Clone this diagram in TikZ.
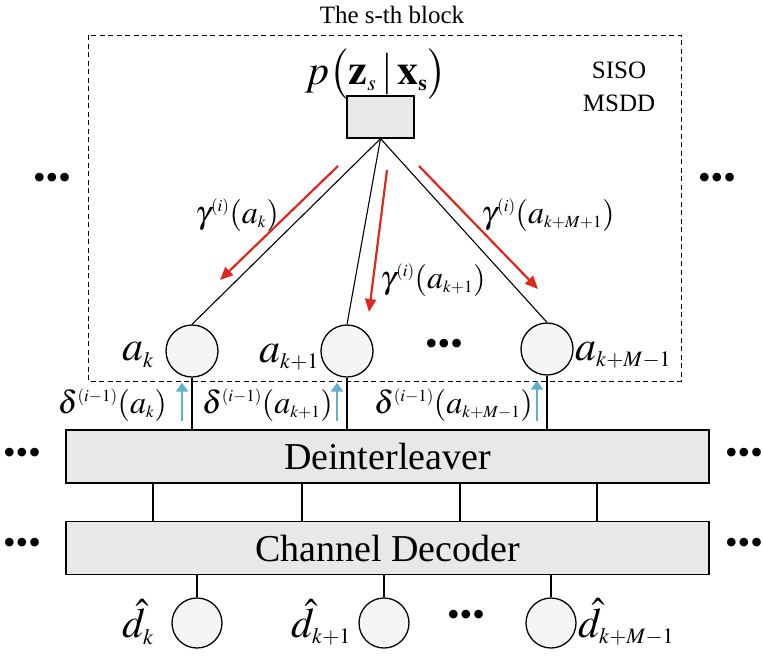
\documentclass[tikz,border=0pt]{standalone}
\usepackage{mathptmx}
\usepackage{fontspec}
\setmainfont{Liberation Serif}
\usepackage{xcolor}
\usetikzlibrary{arrows.meta,calc}
\definecolor{redarr}{RGB}{222,40,30}
\definecolor{bluearr}{RGB}{95,175,205}
\newcommand\fsz[1]{\fontsize{#1}{#1}\selectfont}
\DeclareMathSizes{42}{42}{22}{16}
\DeclareMathSizes{32}{32}{17}{12}

\begin{document}
\begin{tikzpicture}[x=1pt,y=-1pt,font=\fsz{38}]
\tikzset{var/.style={circle,draw=black,line width=1.3pt,fill=black!4,minimum size=52pt,inner sep=0pt},
bar/.style={draw=black,line width=1.3pt,fill=black!9,minimum width=643pt,minimum height=53pt,inner sep=0pt},
msg/.style={font=\fsz{32}},
lbl/.style={font=\fsz{42}},
dots/.style={font=\fsz{36}},
wire/.style={line width=1.1pt},
down/.style={-{Triangle[length=13pt,width=11pt]},draw=redarr,fill=redarr,line width=2.2pt},
up/.style={-{Triangle[length=9pt,width=12pt]},draw=bluearr,fill=bluearr,line width=2.4pt}}
\useasboundingbox (0,0) rectangle (763,657);
% the s-th block
\draw[dash pattern=on 5pt off 3.5pt,line width=.8pt] (88,35) rectangle (681,381);
\node[font=\fsz{25}] (ttl) at (392,15) {The s-th block};
\node[font=\fontsize{25}{33}\selectfont,align=center] (siso) at (619,87) {SISO\\MSDD};
\node[lbl] (plbl) at (376,74) {$p\big(\mathbf{z}_s\,|\,\mathbf{x}_{\mathbf{s}}\big)$};
\node[draw=black,line width=1.3pt,fill=black!9,minimum width=67pt,minimum height=42pt,inner sep=0pt] (pz) at (380.5,117) {};
\node[var] (a1) at (192,351) {};
\node[var] (a2) at (347,351) {};
\node[var] (a3) at (547,349) {};
\node[lbl] at (138,355) {$a_k$};
\node[lbl] at (289,357) {$a_{k+1}$};
\node[lbl,anchor=west,inner sep=0pt] at (575,355) {$a_{k+M-1}$};
\node[dots] at (444,347) {•••};
\foreach \n in {a1,a2,a3}{\draw[wire] (pz.south)--(\n.north);}
% messages out of the block
\coordinate (r1a) at (338,166); \coordinate (r1b) at (220,280);
\coordinate (r2a) at (387,170); \coordinate (r2b) at (369,312);
\coordinate (r3a) at (419,166); \coordinate (r3b) at (538,289);
\draw[down] (r1a)--(r1b);
\draw[down] (r2a)--(r2b);
\draw[down] (r3a)--(r3b);
\node[msg] at (237,215) {$\gamma^{(i)}(a_k)$};
\node[msg] at (433,280) {$\gamma^{(i)}(a_{k+1})$};
\node[msg] at (548,215) {$\gamma^{(i)}(a_{k+M+1})$};
\node[dots] at (52,181) {•••};
\node[dots] at (717,181) {•••};
% deinterleaver and decoder
\node[bar] (dei) at (387.5,456.5) {Deinterleaver};
\node[bar] (cdec) at (387.5,548) {Channel Decoder};
\foreach \n in {a1,a2,a3}{\draw[line width=1.6pt] (\n.south)--(\n.south |- dei.north);
\draw[up] ($(\n.south |- dei.north)+(-10,-8)$)--($(\n.south)+(-10,5)$);}
\node[msg,anchor=east,inner sep=0pt] at (167,405) {$\delta^{(i-1)}(a_k)$};
\node[msg,anchor=east,inner sep=0pt] at (333,405) {$\delta^{(i-1)}(a_{k+1})$};
\node[msg,anchor=east,inner sep=0pt] at (533,405) {$\delta^{(i-1)}(a_{k+M-1})$};
\foreach \x in {153,302,460,597}{\draw[wire] (\x,0 |- dei.south)--(\x,0 |- cdec.north);}
\node[dots] at (22,456) {•••};
\node[dots] at (22,546) {•••};
\node[dots] at (744,456) {•••};
\node[dots] at (744,546) {•••};
% decoded bits
\node[var,minimum size=50pt] (d1) at (197,623) {};
\node[var,minimum size=50pt] (d2) at (384,623) {};
\node[var,minimum size=50pt] (d3) at (551,623) {};
\foreach \n in {d1,d2,d3}{\draw[wire] (\n.north |- cdec.south)--(\n.north);}
\node[lbl] at (138,622) {$\hat{d}_k$};
\node[lbl] at (321,622) {$\hat{d}_{k+1}$};
\node[lbl,anchor=west,inner sep=0pt] at (578,622) {$\hat{d}_{k+M-1}$};
\node[dots] at (466,618) {•••};
\end{tikzpicture}
\end{document}
